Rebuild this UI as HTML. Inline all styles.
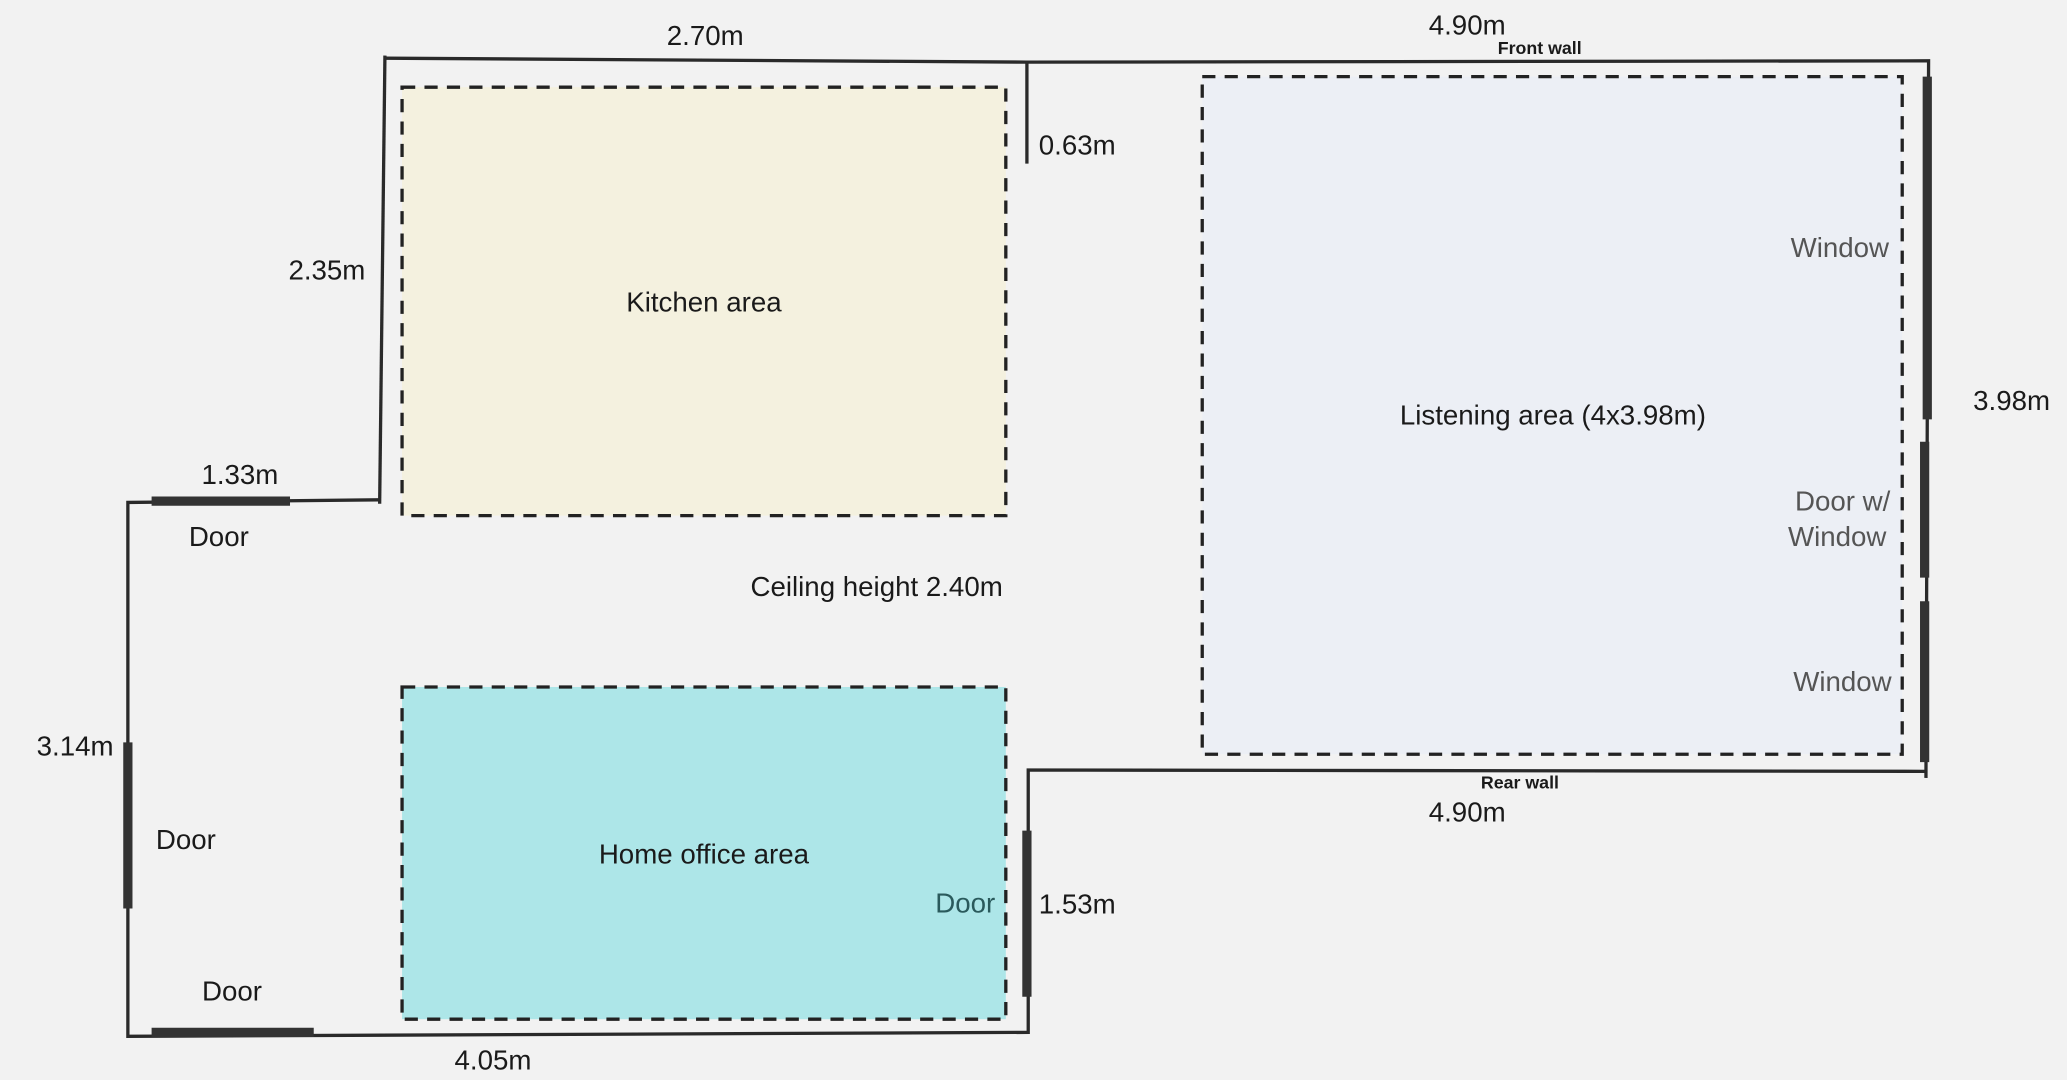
<!DOCTYPE html>
<html><head><meta charset="utf-8"><style>
html,body{margin:0;padding:0;background:#f2f2f2;}
svg{display:block}
text{font-family:"Liberation Sans",sans-serif;fill:#1a1a1a;font-size:21px}
</style></head><body>
<svg width="2067" height="1080" viewBox="0 0 1568 819" xmlns="http://www.w3.org/2000/svg">
<rect width="1568" height="819" fill="#f2f2f2"/>
<g stroke="#222" stroke-dasharray="10,7" stroke-width="2.5">
<rect x="305" y="66" width="458" height="325" fill="#f4f1df"/>
<rect x="305" y="521" width="458" height="252" fill="#ade6e8"/>
<rect x="912" y="58" width="531" height="514" fill="#eceff5"/>
</g>
<g stroke="#2a2a2a" stroke-width="2.5" fill="none">
<path d="M292 44 L779 47 L1463 46 L1461 590"/>
<path d="M779 47 L779 124"/>
<path d="M292 42 L288 382"/>
<path d="M288 379 L97 381 L97 786 L780 783 L780 584 L1461 585"/>
</g>
<g stroke="#333" stroke-width="7" fill="none">
<path d="M115 380 L220 380"/>
<path d="M97 563 L97 689"/>
<path d="M115 783 L238 783"/>
<path d="M779 630 L779 756"/>
<path d="M1462 58 L1462 318"/>
<path d="M1460 335 L1460 438"/>
<path d="M1460 456 L1460 578"/>
</g>
<text x="535" y="34" text-anchor="middle">2.70m</text>
<text x="1113" y="26" text-anchor="middle">4.90m</text>
<text x="1168" y="41" text-anchor="middle" style="font-size:13.5px;font-weight:bold">Front wall</text>
<text x="788" y="117">0.63m</text>
<text x="248" y="212" text-anchor="middle">2.35m</text>
<text x="534" y="236" text-anchor="middle">Kitchen area</text>
<text x="1178" y="322" text-anchor="middle">Listening area (4x3.98m)</text>
<text x="1433" y="195" text-anchor="end" style="fill:#555">Window</text>
<text x="1526" y="311" text-anchor="middle">3.98m</text>
<text x="1434" y="387" text-anchor="end" style="fill:#555">Door  w/</text>
<text x="1431" y="414" text-anchor="end" style="fill:#555">Window</text>
<text x="1435" y="524" text-anchor="end" style="fill:#555">Window</text>
<text x="182" y="367" text-anchor="middle">1.33m</text>
<text x="166" y="414" text-anchor="middle">Door</text>
<text x="665" y="452" text-anchor="middle">Ceiling height 2.40m</text>
<text x="57" y="573" text-anchor="middle">3.14m</text>
<text x="141" y="644" text-anchor="middle">Door</text>
<text x="534" y="655" text-anchor="middle">Home office area</text>
<text x="755" y="692" text-anchor="end" style="fill:#2a5a5c">Door</text>
<text x="788" y="693">1.53m</text>
<text x="176" y="759" text-anchor="middle">Door</text>
<text x="374" y="811" text-anchor="middle">4.05m</text>
<text x="1153" y="598" text-anchor="middle" style="font-size:13.5px;font-weight:bold">Rear wall</text>
<text x="1113" y="623" text-anchor="middle">4.90m</text>
</svg>
</body></html>
